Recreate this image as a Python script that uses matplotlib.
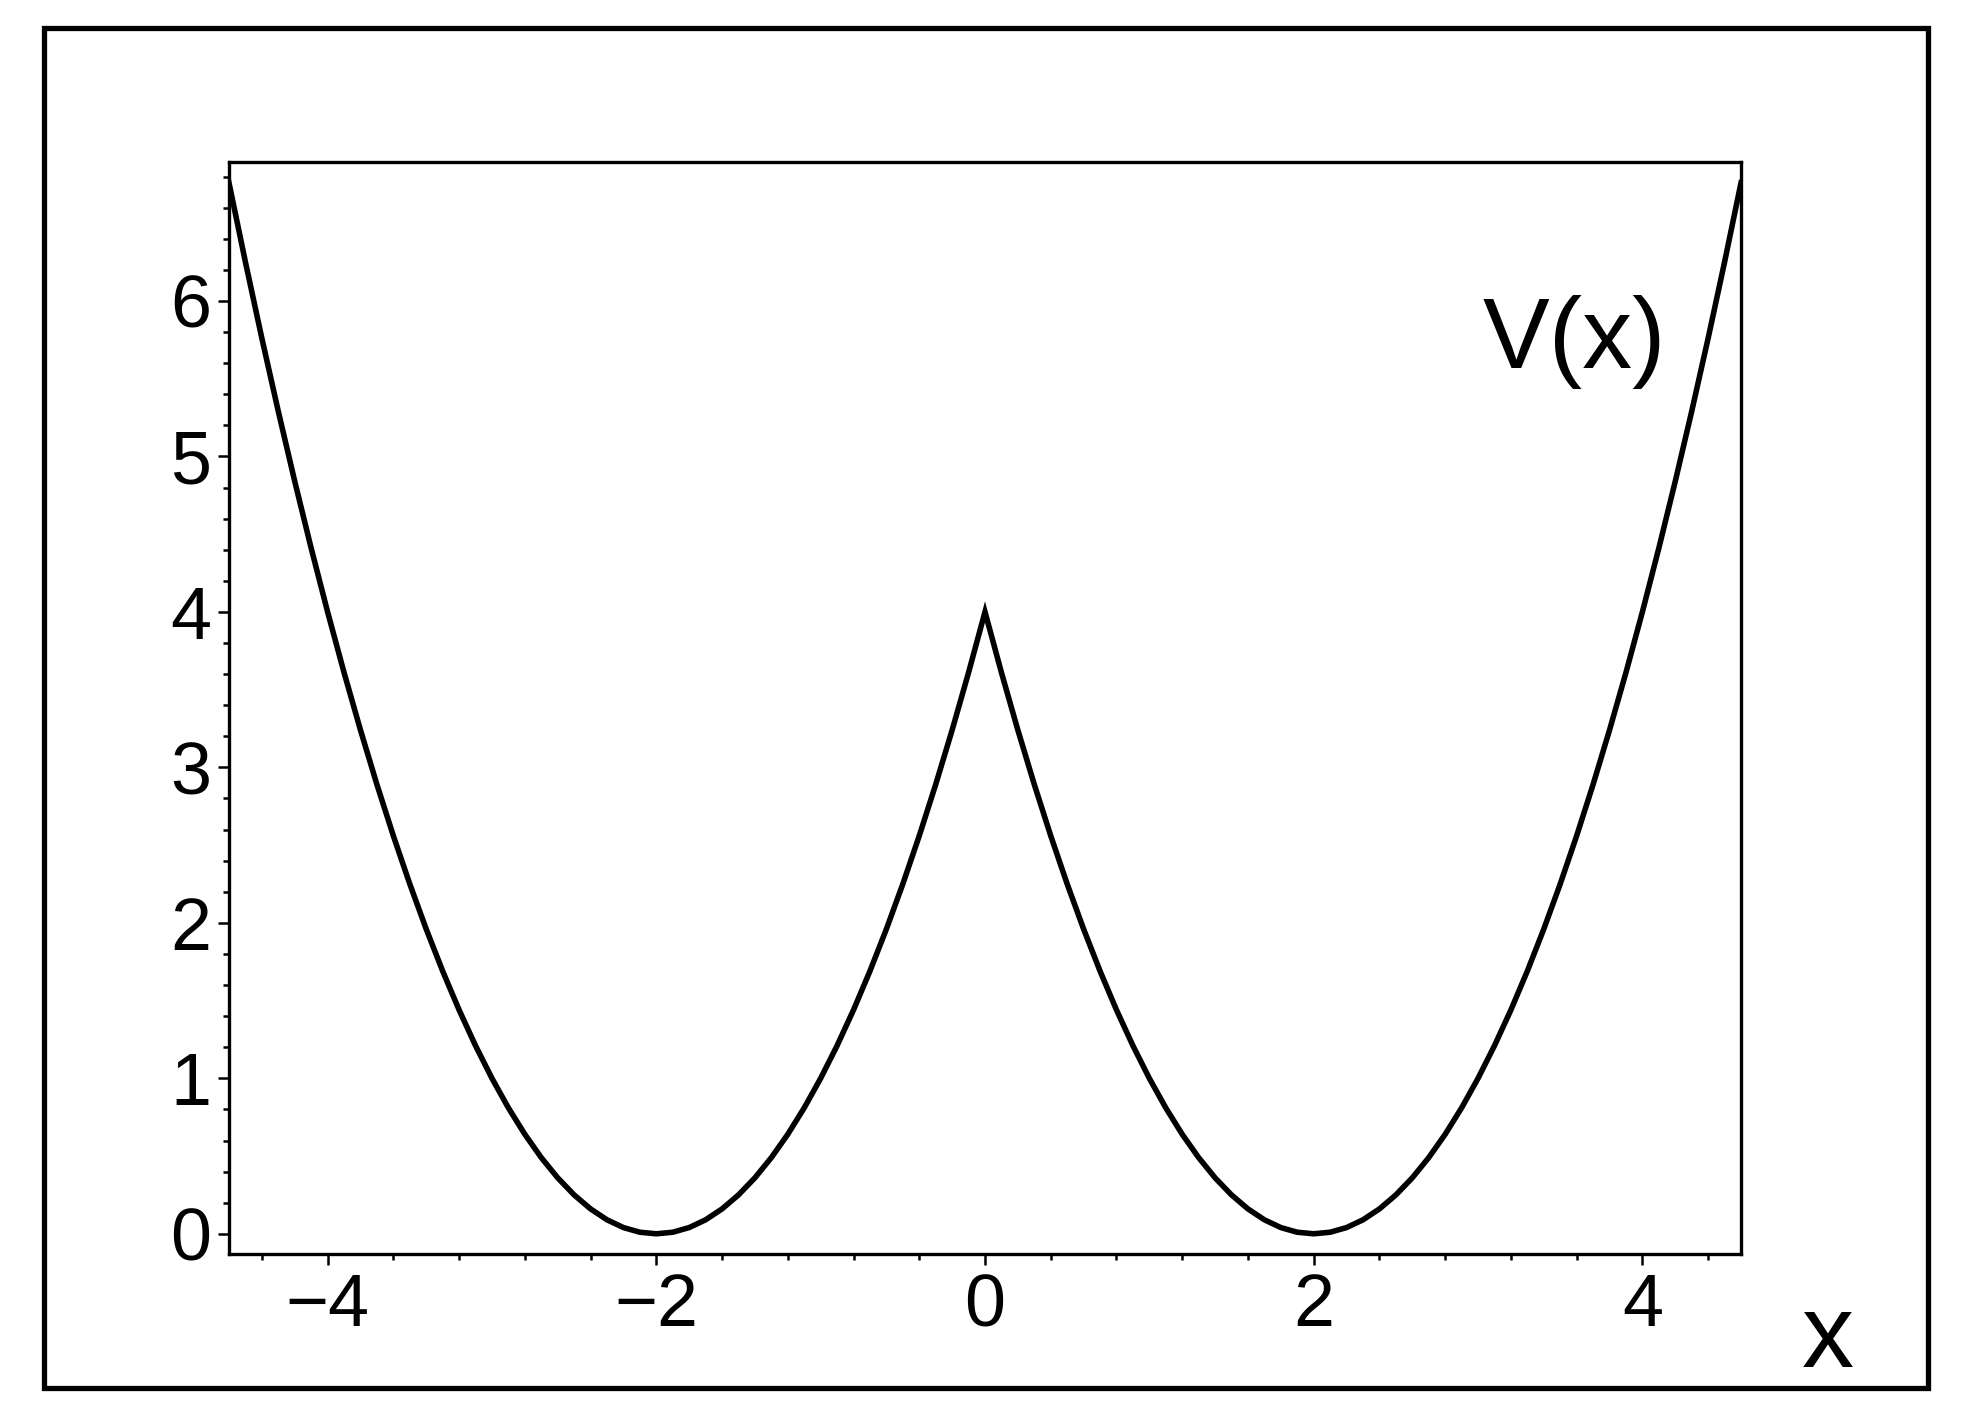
import numpy as np
import matplotlib
matplotlib.use("Agg")
import matplotlib.pyplot as plt
from matplotlib.patches import Rectangle
from matplotlib.ticker import MultipleLocator

# curve samples (double well, cusp at x=0)
x_vals = [-4.6, -4.5, -4.4, -4.3, -4.2, -4.1, -4.0, -3.9, -3.8, -3.7, -3.6, -3.5,
          -3.4, -3.3, -3.2, -3.1, -3.0, -2.9, -2.8, -2.7, -2.6, -2.5, -2.4, -2.3,
          -2.2, -2.1, -2.0, -1.9, -1.8, -1.7, -1.6, -1.5, -1.4, -1.3, -1.2, -1.1,
          -1.0, -0.9, -0.8, -0.7, -0.6, -0.5, -0.4, -0.3, -0.2, -0.1, 0.0,
          0.1, 0.2, 0.3, 0.4, 0.5, 0.6, 0.7, 0.8, 0.9, 1.0, 1.1, 1.2,
          1.3, 1.4, 1.5, 1.6, 1.7, 1.8, 1.9, 2.0, 2.1, 2.2, 2.3, 2.4,
          2.5, 2.6, 2.7, 2.8, 2.9, 3.0, 3.1, 3.2, 3.3, 3.4, 3.5, 3.6,
          3.7, 3.8, 3.9, 4.0, 4.1, 4.2, 4.3, 4.4, 4.5, 4.6]
v_vals = [6.76, 6.25, 5.76, 5.29, 4.84, 4.41, 4.00, 3.61, 3.24, 2.89, 2.56, 2.25,
          1.96, 1.69, 1.44, 1.21, 1.00, 0.81, 0.64, 0.49, 0.36, 0.25, 0.16, 0.09,
          0.04, 0.01, 0.00, 0.01, 0.04, 0.09, 0.16, 0.25, 0.36, 0.49, 0.64, 0.81,
          1.00, 1.21, 1.44, 1.69, 1.96, 2.25, 2.56, 2.89, 3.24, 3.61, 4.00,
          3.61, 3.24, 2.89, 2.56, 2.25, 1.96, 1.69, 1.44, 1.21, 1.00, 0.81, 0.64,
          0.49, 0.36, 0.25, 0.16, 0.09, 0.04, 0.01, 0.00, 0.01, 0.04, 0.09, 0.16,
          0.25, 0.36, 0.49, 0.64, 0.81, 1.00, 1.21, 1.44, 1.69, 1.96, 2.25, 2.56,
          2.89, 3.24, 3.61, 4.00, 4.41, 4.84, 5.29, 5.76, 6.25, 6.76]

x_ticks = [-4, -2, 0, 2, 4]
y_ticks = [0, 1, 2, 3, 4, 5, 6]

plt.rcParams['font.family'] = ['Liberation Sans', 'DejaVu Sans']

W, H = 1961, 1424
fig = plt.figure(figsize=(W / 100, H / 100), dpi=100)
ax = fig.add_axes([229 / W, 1 - 1254 / H, (1741 - 229) / W, (1254 - 162) / H])

ax.plot(x_vals, v_vals, color='black', lw=4, solid_joinstyle='miter')
ax.set_xlim(-4.6, 4.6)
ax.set_ylim(-0.13, 6.894)

ax.set_xticks(x_ticks)
ax.set_yticks(y_ticks)
ax.xaxis.set_minor_locator(MultipleLocator(0.4))
ax.yaxis.set_minor_locator(MultipleLocator(0.2))
ax.tick_params(which='both', direction='out', width=1.8, top=False, right=False)
ax.tick_params(which='major', length=8, labelsize=53, pad=5)
ax.tick_params(which='minor', length=4)
for s in ax.spines.values():
    s.set_linewidth(2.4)

# labels placed like the original
fig.text(1483 / W, 1 - 368 / H, 'V(x)', fontsize=72, ha='left', va='baseline')
fig.text(1802 / W, 1 - 1367 / H, 'x', fontsize=75, ha='left', va='baseline')

# outer frame
fig.patches.append(Rectangle((44 / W, 1 - 1388 / H), (1928 - 44) / W, (1388 - 28) / H,
                             transform=fig.transFigure, fill=False, lw=3.8,
                             edgecolor='black', joinstyle='miter'))

fig.savefig('out.png', dpi=100)
